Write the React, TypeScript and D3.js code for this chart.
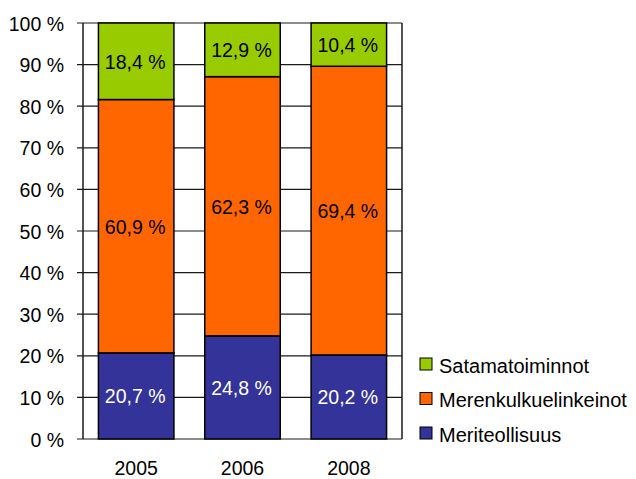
import React from "react";
import * as d3 from "d3";

const years = ["2005", "2006", "2008"];
const seriesNames = ["Meriteollisuus", "Merenkulkuelinkeinot", "Satamatoiminnot"];
const meriteollisuus = [20.7, 24.8, 20.2];
const merenkulku = [60.9, 62.3, 69.4];
const satama = [18.4, 12.9, 10.4];
const colors = ["#333399", "#FF6600", "#99CC00"];
const labelColors = ["#FFFFFF", "#000000", "#000000"];
const yTicks = [0, 10, 20, 30, 40, 50, 60, 70, 80, 90, 100];

const fmt = (v: number) => v.toFixed(1).replace(".", ",") + " %";

export default function App() {
  const W = 636, H = 479;
  const left = 83, right = 402, top = 23, bottom = 439;
  const x = d3.scaleBand().domain(years).range([left, right]).paddingInner(0.29).paddingOuter(0.145);
  const y = d3.scaleLinear().domain([0, 100]).range([bottom, top]);
  const rows = years.map((yr, i) => ({ year: yr, v0: meriteollisuus[i], v1: merenkulku[i], v2: satama[i] }));
  const stack = d3.stack<any>().keys(["v0", "v1", "v2"])(rows);
  const font = "'Liberation Sans', Arial, sans-serif";
  const legendOrder = [2, 1, 0];
  const fs = 19.5;
  return (
    <div style={{ position: "absolute", left: 0, top: 0 }}>
      <svg width={W} height={H} style={{ display: "block", background: "#fff" }} fontFamily={font}>
        {yTicks.map((t) => (
          <g key={t}>
            <line x1={left - 6} x2={right} y1={y(t)} y2={y(t)} stroke="#1a1a1a" strokeWidth={1.2} />
            <text x={left - 19} y={y(t) + 0.7} dy="0.35em" textAnchor="end" fontSize={fs} fill="#000">
              {t} %
            </text>
          </g>
        ))}
        <line x1={left} x2={left} y1={top} y2={bottom} stroke="#1a1a1a" strokeWidth={1.5} />
        <line x1={right} x2={right} y1={top} y2={bottom} stroke="#1a1a1a" strokeWidth={1.5} />
        {stack.map((s, si) =>
          s.map((d, i) => {
            const x0 = x(years[i])!;
            const y0 = y(d[1]);
            const h = y(d[0]) - y(d[1]);
            return (
              <g key={si + "-" + i}>
                <rect x={x0} y={y0} width={x.bandwidth()} height={h} fill={colors[si]} stroke="#000" strokeWidth={1.5} />
                <text x={x0 + x.bandwidth() / 2 - 1} y={y0 + h / 2 + 0.5} dy="0.35em" textAnchor="middle" fontSize={fs} fill={labelColors[si]}>
                  {fmt(d[1] - d[0])}
                </text>
              </g>
            );
          })
        )}
        {years.map((yr) => (
          <text key={yr} x={x(yr)! + x.bandwidth() / 2} y={475} textAnchor="middle" fontSize={fs} fill="#000">
            {yr}
          </text>
        ))}
        {legendOrder.map((si, k) => (
          <g key={si} transform={`translate(420, ${364 + k * 34.5})`}>
            <rect x={0} y={-6} width={12} height={12} fill={colors[si]} stroke="#000" strokeWidth={1} />
            <text x={19} y={1.5} dy="0.35em" fontSize={20} fill="#000">
              {seriesNames[si]}
            </text>
          </g>
        ))}
      </svg>
    </div>
  );
}
